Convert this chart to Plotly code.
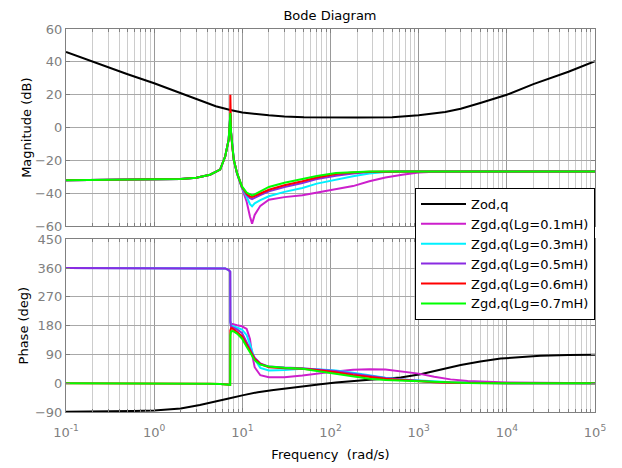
import plotly.graph_objects as go

# ---------------- data ----------------
# frequency grid (rad/s) for the Zgd,q curves
W = [0.1, 0.3, 1, 2, 3, 4.3, 5.6, 6.4, 7.0, 7.2, 7.28, 7.31, 7.34, 7.45, 7.7, 8.0, 8.7, 9.9,
     11.2, 12.2, 12.9, 13.8, 16, 20, 30, 48, 70, 115, 180, 276, 420, 650, 1000, 1500, 2300,
     3600, 5500, 10000, 100000]

mag_lg01 = [-32, -31.8, -31.6, -31.2, -30.4, -28.6, -25.5, -17.4, -7.3, 0, 6,
            8, 5, -3, -12, -19.5, -28, -37, -45, -54, -58.4,
            -53, -47.5, -43.8, -42.2, -41, -39.5, -37.7, -35.5, -32.6, -30.3,
            -28.6, -27.3, -26.8, -26.6, -26.6, -26.6, -26.6, -26.6]
mag_lg03 = [-32, -31.8, -31.6, -31.2, -30.4, -28.6, -25.5, -17.4, -7.3, 0, 6,
            8, 5, -3, -12, -19.5, -27.8, -36.6, -42, -46.5, -47.8,
            -46, -44, -41.7, -39, -36.7, -34, -31.6, -29.5, -27.9, -27,
            -26.7, -26.6, -26.6, -26.6, -26.6, -26.6, -26.6, -26.6]
mag_lg05 = [-32, -31.8, -31.6, -31.2, -30.4, -28.6, -25.5, -17.4, -7.3, 0, 6,
            8, 5, -3, -12, -19.5, -27.5, -36.2, -40.8, -42.8, -43.4,
            -42.5, -41, -38.7, -36, -33.6, -31.2, -29.2, -27.8, -27, -26.7,
            -26.6, -26.6, -26.6, -26.6, -26.6, -26.6, -26.6, -26.6]
mag_lg06 = [-32, -31.8, -31.6, -31.2, -30.4, -28.6, -25.5, -17.4, -7.3, 0, 6,
            20, 6, -3, -12, -19.5, -27.5, -36, -40.2, -41.8, -42.1,
            -41.5, -40, -37.7, -35, -32.6, -30.3, -28.2, -27.2, -26.8, -26.6,
            -26.6, -26.6, -26.6, -26.6, -26.6, -26.6, -26.6, -26.6]
mag_lg07 = [-32, -31.8, -31.6, -31.2, -30.4, -28.6, -25.5, -17.4, -7.3, 0, 6,
            8.9, 6, -3, -12, -19.5, -27.5, -35.7, -39.5, -40.8, -41.1,
            -40.5, -38.8, -36, -33.5, -31.2, -29.3, -27.6, -26.9, -26.6, -26.6,
            -26.6, -26.6, -26.6, -26.6, -26.6, -26.6, -26.6, -26.6]

ph_lg01 = [360, 360, 360, 360, 360, 360, 360, 359, 354, 351, 349,
           195, 188, 186, 185, 183, 181, 178, 170, 138, 90,
           50, 25, 19, 19, 24, 30, 37, 42, 44, 43,
           37, 30, 20, 12, 7, 4.5, 2, 0]
ph_lg03 = [360, 360, 360, 360, 360, 360, 360, 359, 354, 351, 349,
           192, 185, 180, 179, 178, 174, 168, 150, 122, 100,
           75, 48, 40, 41, 45, 44, 40, 33, 24, 17,
           11.5, 8, 6, 3, 1.5, 0.5, 0, 0]
ph_lg05 = [360, 360, 360, 360, 360, 360, 360, 359, 354, 351, 349,
           190, 180, 176, 175, 173, 168, 157, 130, 108, 93,
           80, 62, 52, 49, 47, 43, 38, 30, 22, 16,
           11.5, 7, 4, 2, 1, 0, 0, 0]
ph_lg06 = [0, 0, 0, 0, -0.5, -1.5, -2.5, -3, -4.5, -5, -5,
           165, 171, 172, 171, 168, 160, 147, 120, 102, 89,
           76, 60, 50, 47, 45, 41, 34.5, 26, 19, 14,
           10, 6, 3, 1.5, 0.5, 0, 0, 0]
ph_lg07 = [0, 0, 0, 0, -0.5, -1.5, -2.5, -3, -4.5, -5, -5,
           150, 160, 162, 163, 162, 155, 140, 114, 95, 84,
           72, 58, 52, 48, 45, 38, 29, 20, 13.6, 10,
           8, 4, 2, 0.8, 0.3, 0, 0, 0]

# Zod,q (black)
W_od_mag = [0.1, 0.2, 0.5, 1, 2, 3.3, 5, 7.3, 10, 20, 30, 50, 100, 200, 500, 1000, 2000,
            3000, 5000, 10000, 20000, 50000, 100000]
mag_od = [46, 40, 32.5, 27, 21, 16.5, 13, 10.8, 9.3, 7.5, 6.8, 6.4, 6.2, 6.2, 6.4, 7.5, 9.5,
          11.5, 15, 20, 26.5, 34, 40.5]
W_od_ph = [0.1, 0.3, 0.58, 1, 2, 3.3, 5, 7, 10, 15, 21.5, 40, 77, 115, 170, 276, 400, 624,
           1050, 1500, 3000, 5000, 8500, 15000, 24000, 50000, 100000]
ph_od = [-89, -88.5, -87, -85, -79, -68, -58, -48, -38, -28, -22, -12, -3, 2, 7, 11, 14, 18,
         28, 38, 57, 68, 77, 82, 85.6, 88, 89]

names = ["Zgd,q(Lg=0.1mH)", "Zgd,q(Lg=0.3mH)", "Zgd,q(Lg=0.5mH)",
         "Zgd,q(Lg=0.6mH)", "Zgd,q(Lg=0.7mH)"]
colors = ["#cc1fcc", "#00f0ff", "#8a2be2", "#ff0000", "#00ff00"]
mags = [mag_lg01, mag_lg03, mag_lg05, mag_lg06, mag_lg07]
phases = [ph_lg01, ph_lg03, ph_lg05, ph_lg06, ph_lg07]

tick_vals = [0.1, 1, 10, 100, 1000, 10000, 100000]
tick_text = ["10<sup>-1</sup>", "10<sup>0</sup>", "10<sup>1</sup>", "10<sup>2</sup>",
             "10<sup>3</sup>", "10<sup>4</sup>", "10<sup>5</sup>"]

FONT = "DejaVu Sans, Verdana, sans-serif"

# ---------------- figure ----------------
fig = go.Figure()
fig.add_trace(go.Scatter(x=W_od_mag, y=mag_od, mode="lines", name="Zod,q",
                         line=dict(color="#000000", width=2), xaxis="x", yaxis="y"))
fig.add_trace(go.Scatter(x=W_od_ph, y=ph_od, mode="lines", name="Zod,q", showlegend=False,
                         line=dict(color="#000000", width=2), xaxis="x2", yaxis="y2"))
for n, c, m, p in zip(names, colors, mags, phases):
    fig.add_trace(go.Scatter(x=W, y=m, mode="lines", name=n, legendgroup=n,
                             line=dict(color=c, width=2), xaxis="x", yaxis="y"))
    fig.add_trace(go.Scatter(x=W, y=p, mode="lines", name=n, legendgroup=n, showlegend=False,
                             line=dict(color=c, width=2), xaxis="x2", yaxis="y2"))

minor_vals = []
for e in range(-1, 5):
    for k in range(2, 10):
        minor_vals.append(k * 10 ** e)

axis_common = dict(showline=True, linecolor="#808080", linewidth=1, mirror="ticks",
                   ticks="inside", ticklen=4, tickcolor="#808080", automargin=False,
                   showgrid=True, gridcolor="#a8a8a8", gridwidth=1, zeroline=False,
                   tickfont=dict(family=FONT, size=13, color="#808080"))
xcommon = dict(axis_common, type="log", range=[-1, 5], tickmode="array",
               tickvals=tick_vals, ticktext=tick_text, gridcolor="#999999",
               minor=dict(tickmode="array", tickvals=minor_vals, ticks="inside", ticklen=3,
                          tickcolor="#808080", showgrid=True, gridcolor="#cccccc", gridwidth=1))

title_font = dict(family=FONT, size=13, color="#000000")

fig.update_layout(
    width=622, height=468,
    margin=dict(l=66, r=27, t=29, b=56),
    paper_bgcolor="white", plot_bgcolor="white",
    font=dict(family=FONT, size=13, color="#000000"),
    title=dict(text="Bode Diagram", x=330 / 622, xanchor="center", y=1 - 15 / 468,
               yanchor="middle", font=dict(family=FONT, size=13, color="#000000")),
    xaxis=dict(xcommon, anchor="y", domain=[0, 1], showticklabels=False),
    yaxis=dict(axis_common, anchor="x", domain=[0.4846, 1], range=[-60, 60], dtick=20, tick0=0,
               title=dict(text="Magnitude (dB)", font=title_font, standoff=0)),
    xaxis2=dict(xcommon, anchor="y2", domain=[0, 1], matches="x", ticklabelstandoff=8,
                title=dict(text="Frequency \u00a0(rad/s)", font=title_font, standoff=11)),
    yaxis2=dict(axis_common, anchor="x2", domain=[0, 0.451], range=[-90, 450], dtick=90, tick0=0,
                title=dict(text="Phase (deg)", font=title_font, standoff=3)),
    showlegend=True,
    legend=dict(x=1, xanchor="right", y=0.585, yanchor="top", bgcolor="white",
                bordercolor="#000000", borderwidth=1, itemwidth=45,
                font=dict(family=FONT, size=13, color="#000000"),
                tracegroupgap=0),
)

fig.write_html("out.html")
